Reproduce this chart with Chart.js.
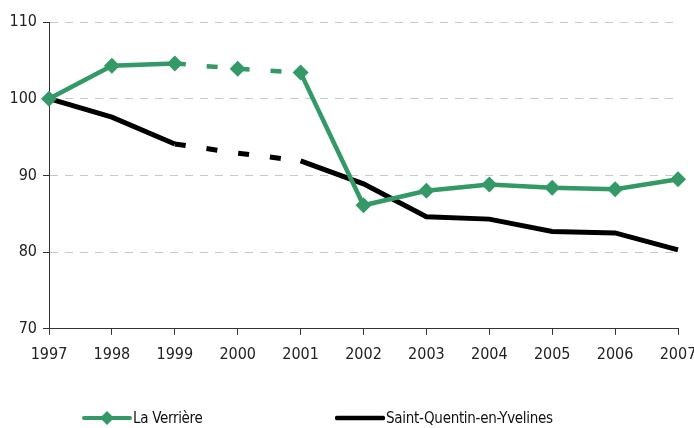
<!DOCTYPE html>
<html><head><meta charset="utf-8">
<script src="https://cdn.jsdelivr.net/npm/chart.js@4/dist/chart.umd.min.js"></script>
<style>
html,body{margin:0;padding:0;background:#fff;}
#wrap{position:relative;width:694px;height:428px;}
#c{position:absolute;left:0;top:0;}
.leg{position:absolute;top:408px;font-family:"DejaVu Sans Condensed","Liberation Sans Narrow",sans-serif;font-size:15px;color:#111;display:flex;align-items:center;white-space:nowrap;letter-spacing:-0.3px;}
.leg canvas{display:block;margin-right:1px;}
</style></head>
<body>
<div id="wrap">
<canvas id="c" width="694" height="428"></canvas>
<div class="leg" style="left:82px"><canvas id="l1" width="50" height="20"></canvas><span>La Verrière</span></div>
<div class="leg" style="left:335px"><canvas id="l2" width="50" height="20"></canvas><span>Saint-Quentin-en-Yvelines</span></div>
</div>
<script>
const years = ['1997','1998','1999','2000','2001','2002','2003','2004','2005','2006','2007'];
const laVerriere = [100, 104.3, 104.6, 103.9, 103.4, 86.1, 88.0, 88.8, 88.4, 88.2, 89.5];
const saintQuentin = [100, 97.6, 94.1, 92.9, 91.9, 88.9, 84.6, 84.3, 82.7, 82.5, 80.3];
const seriesNames = ['La Verrière', 'Saint-Quentin-en-Yvelines'];
const yTicks = [70, 80, 90, 100, 110];

const GREEN = '#339966';
const FONT = '"DejaVu Sans Condensed","Liberation Sans Narrow",sans-serif';
const dashed = ctx => (ctx.p0DataIndex >= 2 && ctx.p1DataIndex <= 4) ? [11, 21] : undefined;

new Chart(document.getElementById('c'), {
  type: 'line',
  data: {
    labels: years,
    datasets: [
      {label: seriesNames[0], data: laVerriere, borderColor: GREEN, backgroundColor: GREEN,
       borderWidth: 4.5, pointStyle: 'rectRot', pointRadius: 8, pointHoverRadius: 8,
       pointBorderWidth: 0, tension: 0, segment: {borderDash: dashed}},
      {label: seriesNames[1], data: saintQuentin, borderColor: '#000', backgroundColor: '#000',
       borderWidth: 5, pointRadius: 0, tension: 0, segment: {borderDash: dashed}}
    ]
  },
  options: {
    responsive: false, animation: false,
    layout: {padding: {top: 22, right: 16, bottom: 54, left: 0}},
    plugins: {legend: {display: false}, tooltip: {enabled: false}},
    scales: {
      x: {
        offset: false,
        afterFit: ax => { ax.paddingRight = 0; },
        grid: {drawOnChartArea: false, tickLength: 6, tickColor: '#333', lineWidth: 1},
        border: {color: '#333', width: 1},
        ticks: {color: '#222', font: {family: FONT, size: 16}, maxRotation: 0, padding: 10, autoSkip: false}
      },
      y: {
        min: 70, max: 110,
        afterFit: ax => { ax.width = 49; },
        afterBuildTicks: ax => { ax.ticks = yTicks.map(v => ({value: v})); },
        grid: {color: c => c.tick && c.tick.value === 70 ? 'rgba(0,0,0,0)' : '#c8c8c8', tickLength: 6, tickColor: '#333', lineWidth: 1},
        border: {color: '#333', width: 1, dash: [8, 7]},
        ticks: {color: '#222', font: {family: FONT, size: 16}, padding: 6}
      }
    }
  }
});

function legLine(id, color, w, marker){
  const cv = document.getElementById(id), g = cv.getContext('2d');
  g.strokeStyle = color; g.lineWidth = w; g.lineCap='round';
  g.beginPath(); g.moveTo(2,10); g.lineTo(48,10); g.stroke();
  if (marker){ g.fillStyle = color; g.beginPath(); g.moveTo(25,3); g.lineTo(32,10); g.lineTo(25,17); g.lineTo(18,10); g.closePath(); g.fill(); }
}
legLine('l1', GREEN, 4, true);
legLine('l2', '#000', 4.5, false);
</script>
</body></html>
